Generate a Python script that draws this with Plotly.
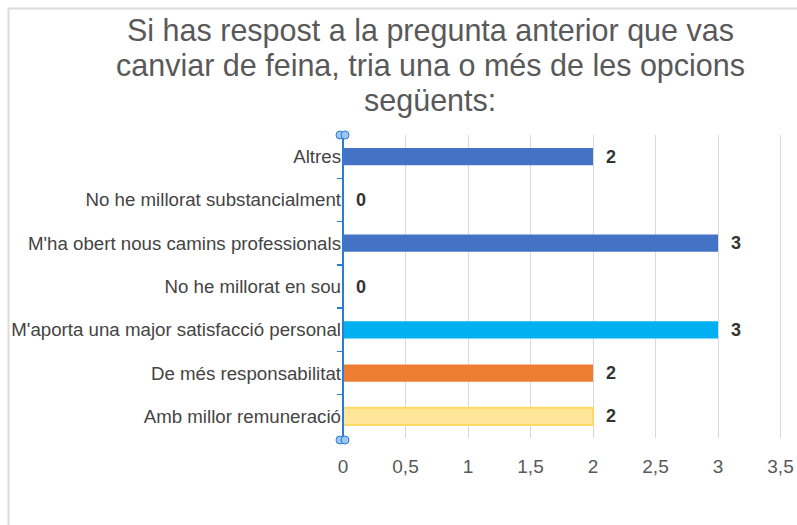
import plotly.graph_objects as go

categories = [
    "Altres",
    "No he millorat substancialment",
    "M'ha obert nous camins professionals",
    "No he millorat en sou",
    "M'aporta una major satisfacció personal",
    "De més responsabilitat",
    "Amb millor remuneració",
]
values = [2, 0, 3, 0, 3, 2, 2]
bar_colors = ["#4472C4", "#4472C4", "#4472C4", "#4472C4", "#00B0F0", "#ED7D31", "#FFE699"]
bar_lines = ["#4472C4", "#4472C4", "#4472C4", "#4472C4", "#00B0F0", "#ED7D31", "#FFD966"]
x_ticks = [0, 0.5, 1, 1.5, 2, 2.5, 3, 3.5]
title_lines = [
    "Si has respost a la pregunta anterior que vas",
    "canviar de feina, tria una o més de les opcions",
    "següents:",
]

FONT = "Liberation Sans, Arial, sans-serif"
X_MAX = 3.52
W, H = 797, 525
L, T = 343, 135
R = W - (343 + X_MAX * 125)
B = H - 438
pw = W - L - R
ph = H - T - B


def px_x(px):  # page px -> paper
    return (px - L) / pw


def px_y(py):
    return 1 - (py - T) / ph


fig = go.Figure()
fig.add_trace(go.Bar(
    x=values, y=categories, orientation="h",
    marker=dict(color=bar_colors, line=dict(color=bar_lines, width=[0, 0, 0, 0, 0, 0, 2])),
    width=0.4, hoverinfo="skip", showlegend=False,
))

annotations = []
for c, v in zip(categories, values):
    annotations.append(dict(
        x=v, y=c, xref="x", yref="y", text=f"<b>{v}</b>", showarrow=False,
        xanchor="left", xshift=11, yshift=0,
        font=dict(family=FONT, size=18, color="#333333"),
    ))

for line, cy in zip(title_lines, [30, 65, 100]):
    annotations.append(dict(
        x=px_x(430), y=px_y(cy), xref="paper", yref="paper", text=line,
        showarrow=False, xanchor="center", yanchor="middle",
        font=dict(family=FONT, size=30.5, color="#595959"),
    ))

shapes = [
    dict(type="line", xref="paper", yref="paper",
         x0=px_x(8.5), x1=px_x(8.5), y0=px_y(8), y1=px_y(530),
         line=dict(color="#dcdcdc", width=2)),
    dict(type="line", xref="paper", yref="paper",
         x0=px_x(8), x1=px_x(800), y0=px_y(8.5), y1=px_y(8.5),
         line=dict(color="#dcdcdc", width=2)),
    dict(type="line", xref="paper", yref="paper",
         x0=0, x1=0, y0=px_y(133), y1=px_y(441),
         line=dict(color="#2B7CD3", width=2)),
]
for cy in (135, 440):
    for dx in (-3, 2):
        shapes.append(dict(
            type="circle", xref="paper", yref="paper",
            xsizemode="pixel", ysizemode="pixel",
            xanchor=0, yanchor=px_y(cy),
            x0=dx - 4, x1=dx + 4, y0=-4, y1=4,
            fillcolor="#9FC5F8", line=dict(color="#2B7CD3", width=1),
        ))

fig.update_layout(
    width=W, height=H,
    margin=dict(l=L, r=R, t=T, b=B, pad=0, autoexpand=False),
    paper_bgcolor="white", plot_bgcolor="white",
    separators=",.",
    font=dict(family=FONT, color="#444444"),
    xaxis=dict(range=[0, X_MAX], tickvals=x_ticks, showgrid=True, gridcolor="#d9d9d9",
               gridwidth=1, zeroline=False, showline=False, ticks="",
               ticklabelstandoff=15, automargin=False, ticklabeloverflow="allow",
               tickfont=dict(size=19, color="#595959"), fixedrange=True),
    yaxis=dict(categoryorder="array", categoryarray=categories, autorange="reversed",
               showgrid=False, zeroline=False, showline=False,
               ticks="outside", tickson="boundaries", ticklen=5, tickcolor="#2B7CD3",
               tickwidth=1.5, ticklabelstandoff=1, automargin=False,
               tickfont=dict(size=18.7, color="#444444"), fixedrange=True),
    annotations=annotations,
    shapes=shapes,
)

fig.write_html(
    "out.html",
    config={"displayModeBar": False, "staticPlot": True},
    post_script="document.body.style.margin='0';document.body.style.overflow='hidden';",
)
